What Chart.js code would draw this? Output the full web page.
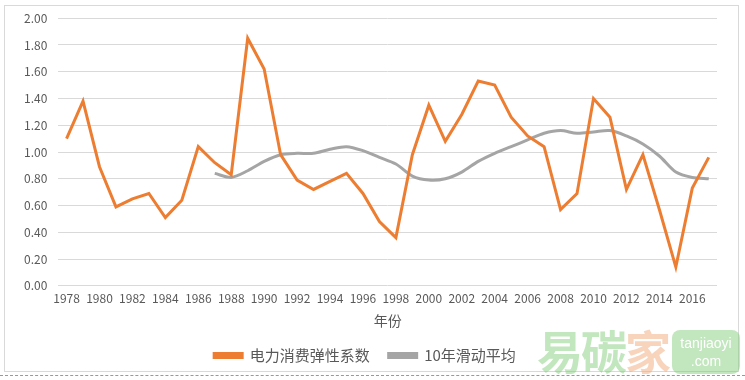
<!DOCTYPE html>
<html>
<head>
<meta charset="utf-8">
<script src="https://cdn.jsdelivr.net/npm/chart.js@4"></script>
<style>
  html, body { margin: 0; padding: 0; background: #fff; }
  #wrap { position: relative; width: 745px; height: 380px; overflow: hidden; }
  #frame { position: absolute; left: 4px; top: 5px; width: 735px; height: 367px; border: 1px solid #d9d9d9; box-sizing: border-box; }
  #dash { position: absolute; left: 0; top: 375px; width: 745px; border-top: 1px dashed #9aa84a; }
  #mark { position: absolute; left: 537px; top: 316px; font: bold 46px 'Noto Sans CJK SC', sans-serif; color: rgba(120, 200, 110, 0.45); letter-spacing: -2px; }
  #mark .jia { color: rgba(240, 170, 120, 0.5); }
  #badge { position: absolute; left: 672px; top: 330px; width: 68px; height: 44px; border-radius: 8px; background: rgba(120, 200, 110, 0.45); color: #fff; font: 14px 'Liberation Sans', sans-serif; text-align: center; line-height: 18px; padding-top: 4px; box-sizing: border-box; }
  canvas { position: absolute; left: 0; top: 0; }
</style>
</head>
<body>
<div id="wrap">
  <div id="frame"></div>
  <canvas id="chart" width="745" height="380"></canvas>
  <div id="mark">易碳<span class="jia">家</span></div>
  <div id="badge">tanjiaoyi<br>.com</div>
  <div id="dash"></div>
</div>
<script>
const years = [];
for (let y = 1978; y <= 2017; y++) years.push(String(y));

// 电力消费弹性系数
const elasticity = [1.10, 1.38, 0.89, 0.59, 0.65, 0.69, 0.51, 0.64, 1.04, 0.92,
                    0.83, 1.85, 1.62, 0.98, 0.79, 0.72, 0.78, 0.84, 0.69, 0.48,
                    0.36, 0.98, 1.35, 1.08, 1.28, 1.53, 1.50, 1.26, 1.12, 1.04,
                    0.57, 0.69, 1.40, 1.26, 0.72, 0.98, 0.57, 0.14, 0.73, 0.96];

// 10年滑动平均 (from 1987)
const movingAvg = [null, null, null, null, null, null, null, null, null, 0.84,
                   0.81, 0.86, 0.93, 0.98, 0.99, 0.99, 1.02, 1.04, 1.01, 0.96,
                   0.91, 0.82, 0.79, 0.80, 0.85, 0.93, 0.99, 1.04, 1.09, 1.14,
                   1.16, 1.14, 1.15, 1.16, 1.12, 1.06, 0.97, 0.85, 0.81, 0.80];

const fontFamily = "'Noto Sans CJK SC', 'Liberation Sans', sans-serif";
const textColor = '#595959';

new Chart(document.getElementById('chart'), {
    type: 'line',
    data: {
        labels: years,
        datasets: [
            {
                label: '电力消费弹性系数',
                data: elasticity,
                borderColor: '#ED7D31',
                backgroundColor: '#ED7D31',
                borderWidth: 3,
                pointRadius: 0,
                tension: 0
            },
            {
                label: '10年滑动平均',
                data: movingAvg,
                borderColor: '#A5A5A5',
                backgroundColor: '#A5A5A5',
                borderWidth: 3,
                pointRadius: 0,
                tension: 0.3
            }
        ]
    },
    options: {
        responsive: false,
        animation: false,
        layout: { padding: { left: 13, right: 28, top: 15, bottom: 7 } },
        plugins: {
            legend: {
                position: 'bottom',
                labels: {
                    color: textColor,
                    font: { family: fontFamily, size: 15 },
                    boxWidth: 28,
                    boxHeight: 4,
                    padding: 19
                }
            },
            tooltip: { enabled: false }
        },
        scales: {
            x: {
                offset: true,
                grid: { display: false, drawTicks: false },
                border: { display: false },
                ticks: {
                    color: textColor,
                    font: { family: fontFamily, size: 12 },
                    autoSkip: false,
                    maxRotation: 0,
                    padding: 5,
                    callback: function (v, i) { return i % 2 === 0 ? years[i] : ''; }
                },
                title: {
                    display: true,
                    text: '年份',
                    color: textColor,
                    font: { family: fontFamily, size: 14 },
                    padding: { top: 2, bottom: 0 }
                }
            },
            y: {
                min: 0,
                max: 2,
                grid: { color: '#d9d9d9', drawTicks: false },
                border: { display: false },
                ticks: {
                    stepSize: 0.2,
                    color: textColor,
                    font: { family: fontFamily, size: 12 },
                    padding: 11,
                    callback: function (v) { return v.toFixed(2); }
                }
            }
        }
    }
});
</script>
</body>
</html>
